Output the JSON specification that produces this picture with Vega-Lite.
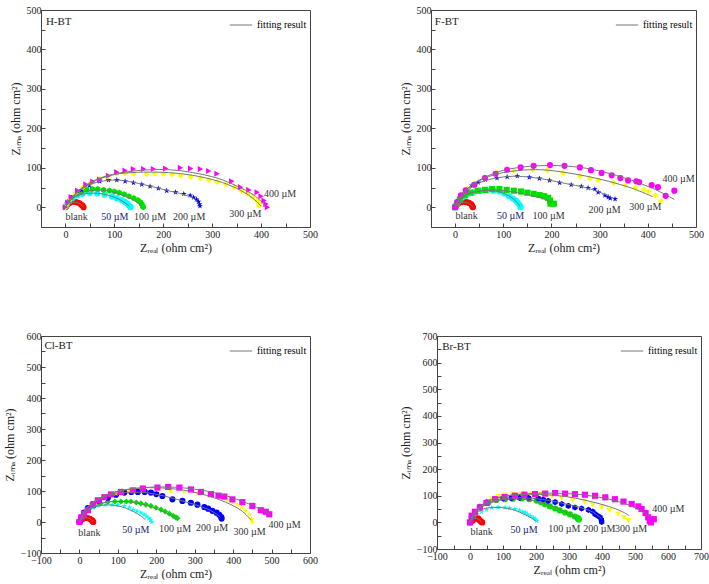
{
"$schema": "https://vega.github.io/schema/vega-lite/v6.json",
"padding": {"left": 2, "top": 4, "right": 0, "bottom": 0},
"config": {
  "font": "Liberation Serif",
  "view": {"stroke": "#444", "strokeWidth": 1},
  "axis": {"grid": false, "domain": false, "tickSize": -4, "tickColor": "#444", "tickCount": 40, "labelFontSize": 10, "labelColor": "#222", "titleFontSize": 12, "titleFontWeight": "normal", "titleColor": "#222", "labelPadding": 4, "labelFlush": false, "labelOverlap": false},
  "axisX": {"labelPadding": 6, "titlePadding": 3},
  "legend": {"labelFont": "Liberation Serif"}
},
"datasets": {
"pts": [
{"panel":"H-BT","series":"blank","x":1,"y":1},{"panel":"H-BT","series":"blank","x":3,"y":5},{"panel":"H-BT","series":"blank","x":6,"y":9},{"panel":"H-BT","series":"blank","x":10,"y":12},{"panel":"H-BT","series":"blank","x":15,"y":14},{"panel":"H-BT","series":"blank","x":20,"y":14},{"panel":"H-BT","series":"blank","x":25,"y":12},{"panel":"H-BT","series":"blank","x":29,"y":10},{"panel":"H-BT","series":"blank","x":32,"y":7},{"panel":"H-BT","series":"blank","x":35,"y":4},{"panel":"H-BT","series":"blank","x":37,"y":0},
{"panel":"H-BT","series":"50","x":0,"y":0},{"panel":"H-BT","series":"50","x":3,"y":8},{"panel":"H-BT","series":"50","x":8,"y":16},{"panel":"H-BT","series":"50","x":15,"y":24},{"panel":"H-BT","series":"50","x":25,"y":30},{"panel":"H-BT","series":"50","x":35,"y":34},{"panel":"H-BT","series":"50","x":50,"y":36},{"panel":"H-BT","series":"50","x":65,"y":35},{"panel":"H-BT","series":"50","x":80,"y":32},{"panel":"H-BT","series":"50","x":95,"y":27},{"panel":"H-BT","series":"50","x":105,"y":23},{"panel":"H-BT","series":"50","x":115,"y":18},{"panel":"H-BT","series":"50","x":122,"y":13},{"panel":"H-BT","series":"50","x":127,"y":9},{"panel":"H-BT","series":"50","x":130,"y":5},{"panel":"H-BT","series":"50","x":132,"y":2},{"panel":"H-BT","series":"50","x":133,"y":0},
{"panel":"H-BT","series":"100","x":0,"y":0},{"panel":"H-BT","series":"100","x":5,"y":12},{"panel":"H-BT","series":"100","x":12,"y":24},{"panel":"H-BT","series":"100","x":22,"y":34},{"panel":"H-BT","series":"100","x":33,"y":40},{"panel":"H-BT","series":"100","x":43,"y":44},{"panel":"H-BT","series":"100","x":55,"y":46},{"panel":"H-BT","series":"100","x":66,"y":46},{"panel":"H-BT","series":"100","x":78,"y":44},{"panel":"H-BT","series":"100","x":90,"y":42},{"panel":"H-BT","series":"100","x":100,"y":40},{"panel":"H-BT","series":"100","x":110,"y":37},{"panel":"H-BT","series":"100","x":120,"y":33},{"panel":"H-BT","series":"100","x":130,"y":28},{"panel":"H-BT","series":"100","x":140,"y":23},{"panel":"H-BT","series":"100","x":148,"y":18},{"panel":"H-BT","series":"100","x":153,"y":13},{"panel":"H-BT","series":"100","x":156,"y":8},{"panel":"H-BT","series":"100","x":158,"y":3},{"panel":"H-BT","series":"100","x":159,"y":0},
{"panel":"H-BT","series":"200","x":0,"y":0},{"panel":"H-BT","series":"200","x":5,"y":12},{"panel":"H-BT","series":"200","x":12,"y":24},{"panel":"H-BT","series":"200","x":22,"y":36},{"panel":"H-BT","series":"200","x":33,"y":44},{"panel":"H-BT","series":"200","x":49,"y":55},{"panel":"H-BT","series":"200","x":70,"y":66},{"panel":"H-BT","series":"200","x":88,"y":69},{"panel":"H-BT","series":"200","x":105,"y":69},{"panel":"H-BT","series":"200","x":122,"y":66},{"panel":"H-BT","series":"200","x":139,"y":62},{"panel":"H-BT","series":"200","x":156,"y":58},{"panel":"H-BT","series":"200","x":173,"y":53},{"panel":"H-BT","series":"200","x":190,"y":48},{"panel":"H-BT","series":"200","x":207,"y":42},{"panel":"H-BT","series":"200","x":225,"y":38},{"panel":"H-BT","series":"200","x":242,"y":34},{"panel":"H-BT","series":"200","x":255,"y":30},{"panel":"H-BT","series":"200","x":262,"y":25},{"panel":"H-BT","series":"200","x":268,"y":20},{"panel":"H-BT","series":"200","x":272,"y":14},{"panel":"H-BT","series":"200","x":274,"y":8},{"panel":"H-BT","series":"200","x":275,"y":3},
{"panel":"H-BT","series":"300","x":0,"y":0},{"panel":"H-BT","series":"300","x":4,"y":10},{"panel":"H-BT","series":"300","x":10,"y":22},{"panel":"H-BT","series":"300","x":20,"y":35},{"panel":"H-BT","series":"300","x":36,"y":51},{"panel":"H-BT","series":"300","x":52,"y":62},{"panel":"H-BT","series":"300","x":70,"y":72},{"panel":"H-BT","series":"300","x":87,"y":78},{"panel":"H-BT","series":"300","x":105,"y":85},{"panel":"H-BT","series":"300","x":122,"y":86},{"panel":"H-BT","series":"300","x":139,"y":85},{"panel":"H-BT","series":"300","x":166,"y":84},{"panel":"H-BT","series":"300","x":183,"y":85},{"panel":"H-BT","series":"300","x":200,"y":85},{"panel":"H-BT","series":"300","x":218,"y":83},{"panel":"H-BT","series":"300","x":235,"y":80},{"panel":"H-BT","series":"300","x":256,"y":77},{"panel":"H-BT","series":"300","x":276,"y":74},{"panel":"H-BT","series":"300","x":293,"y":69},{"panel":"H-BT","series":"300","x":310,"y":64},{"panel":"H-BT","series":"300","x":328,"y":58},{"panel":"H-BT","series":"300","x":345,"y":51},{"panel":"H-BT","series":"300","x":360,"y":42},{"panel":"H-BT","series":"300","x":372,"y":34},{"panel":"H-BT","series":"300","x":383,"y":25},{"panel":"H-BT","series":"300","x":392,"y":17},{"panel":"H-BT","series":"300","x":395,"y":10},{"panel":"H-BT","series":"300","x":396,"y":4},
{"panel":"H-BT","series":"400","x":0,"y":0},{"panel":"H-BT","series":"400","x":5,"y":12},{"panel":"H-BT","series":"400","x":12,"y":26},{"panel":"H-BT","series":"400","x":25,"y":42},{"panel":"H-BT","series":"400","x":42,"y":58},{"panel":"H-BT","series":"400","x":56,"y":65},{"panel":"H-BT","series":"400","x":70,"y":70},{"panel":"H-BT","series":"400","x":88,"y":80},{"panel":"H-BT","series":"400","x":105,"y":89},{"panel":"H-BT","series":"400","x":122,"y":93},{"panel":"H-BT","series":"400","x":139,"y":97},{"panel":"H-BT","series":"400","x":160,"y":97},{"panel":"H-BT","series":"400","x":180,"y":97},{"panel":"H-BT","series":"400","x":205,"y":98},{"panel":"H-BT","series":"400","x":235,"y":100},{"panel":"H-BT","series":"400","x":256,"y":98},{"panel":"H-BT","series":"400","x":276,"y":97},{"panel":"H-BT","series":"400","x":293,"y":92},{"panel":"H-BT","series":"400","x":310,"y":85},{"panel":"H-BT","series":"400","x":340,"y":66},{"panel":"H-BT","series":"400","x":358,"y":51},{"panel":"H-BT","series":"400","x":375,"y":44},{"panel":"H-BT","series":"400","x":392,"y":38},{"panel":"H-BT","series":"400","x":400,"y":28},{"panel":"H-BT","series":"400","x":406,"y":17},{"panel":"H-BT","series":"400","x":410,"y":8},{"panel":"H-BT","series":"400","x":413,"y":0},

{"panel":"F-BT","series":"blank","x":1,"y":1},{"panel":"F-BT","series":"blank","x":3,"y":6},{"panel":"F-BT","series":"blank","x":7,"y":10},{"panel":"F-BT","series":"blank","x":12,"y":13},{"panel":"F-BT","series":"blank","x":18,"y":14},{"panel":"F-BT","series":"blank","x":24,"y":13},{"panel":"F-BT","series":"blank","x":29,"y":11},{"panel":"F-BT","series":"blank","x":33,"y":8},{"panel":"F-BT","series":"blank","x":35,"y":5},{"panel":"F-BT","series":"blank","x":36,"y":2},{"panel":"F-BT","series":"blank","x":37,"y":0},
{"panel":"F-BT","series":"50","x":0,"y":0},{"panel":"F-BT","series":"50","x":3,"y":8},{"panel":"F-BT","series":"50","x":8,"y":16},{"panel":"F-BT","series":"50","x":15,"y":25},{"panel":"F-BT","series":"50","x":25,"y":33},{"panel":"F-BT","series":"50","x":38,"y":38},{"panel":"F-BT","series":"50","x":52,"y":41},{"panel":"F-BT","series":"50","x":66,"y":43},{"panel":"F-BT","series":"50","x":80,"y":42},{"panel":"F-BT","series":"50","x":92,"y":40},{"panel":"F-BT","series":"50","x":102,"y":35},{"panel":"F-BT","series":"50","x":112,"y":28},{"panel":"F-BT","series":"50","x":120,"y":22},{"panel":"F-BT","series":"50","x":126,"y":17},{"panel":"F-BT","series":"50","x":130,"y":12},{"panel":"F-BT","series":"50","x":133,"y":7},{"panel":"F-BT","series":"50","x":135,"y":3},{"panel":"F-BT","series":"50","x":136,"y":0},
{"panel":"F-BT","series":"100","x":0,"y":0},{"panel":"F-BT","series":"100","x":4,"y":10},{"panel":"F-BT","series":"100","x":10,"y":20},{"panel":"F-BT","series":"100","x":20,"y":30},{"panel":"F-BT","series":"100","x":32,"y":37},{"panel":"F-BT","series":"100","x":47,"y":42},{"panel":"F-BT","series":"100","x":62,"y":44},{"panel":"F-BT","series":"100","x":77,"y":46},{"panel":"F-BT","series":"100","x":92,"y":46},{"panel":"F-BT","series":"100","x":107,"y":44},{"panel":"F-BT","series":"100","x":122,"y":42},{"panel":"F-BT","series":"100","x":137,"y":40},{"panel":"F-BT","series":"100","x":150,"y":37},{"panel":"F-BT","series":"100","x":163,"y":34},{"panel":"F-BT","series":"100","x":175,"y":31},{"panel":"F-BT","series":"100","x":185,"y":28},{"panel":"F-BT","series":"100","x":193,"y":24},{"panel":"F-BT","series":"100","x":197,"y":17},{"panel":"F-BT","series":"100","x":198,"y":9},{"panel":"F-BT","series":"100","x":205,"y":9},
{"panel":"F-BT","series":"200","x":0,"y":0},{"panel":"F-BT","series":"200","x":5,"y":14},{"panel":"F-BT","series":"200","x":12,"y":28},{"panel":"F-BT","series":"200","x":22,"y":42},{"panel":"F-BT","series":"200","x":35,"y":55},{"panel":"F-BT","series":"200","x":48,"y":63},{"panel":"F-BT","series":"200","x":63,"y":70},{"panel":"F-BT","series":"200","x":87,"y":74},{"panel":"F-BT","series":"200","x":108,"y":77},{"panel":"F-BT","series":"200","x":129,"y":79},{"panel":"F-BT","series":"200","x":154,"y":76},{"panel":"F-BT","series":"200","x":175,"y":73},{"panel":"F-BT","series":"200","x":196,"y":68},{"panel":"F-BT","series":"200","x":217,"y":62},{"panel":"F-BT","series":"200","x":241,"y":57},{"panel":"F-BT","series":"200","x":262,"y":53},{"panel":"F-BT","series":"200","x":276,"y":49},{"panel":"F-BT","series":"200","x":290,"y":46},{"panel":"F-BT","series":"200","x":297,"y":38},{"panel":"F-BT","series":"200","x":311,"y":30},{"panel":"F-BT","series":"200","x":318,"y":26},{"panel":"F-BT","series":"200","x":322,"y":23},{"panel":"F-BT","series":"200","x":332,"y":21},
{"panel":"F-BT","series":"300","x":0,"y":0},{"panel":"F-BT","series":"300","x":5,"y":14},{"panel":"F-BT","series":"300","x":12,"y":30},{"panel":"F-BT","series":"300","x":25,"y":47},{"panel":"F-BT","series":"300","x":40,"y":60},{"panel":"F-BT","series":"300","x":60,"y":74},{"panel":"F-BT","series":"300","x":87,"y":87},{"panel":"F-BT","series":"300","x":122,"y":93},{"panel":"F-BT","series":"300","x":161,"y":95},{"panel":"F-BT","series":"300","x":192,"y":94},{"panel":"F-BT","series":"300","x":224,"y":87},{"panel":"F-BT","series":"300","x":259,"y":79},{"panel":"F-BT","series":"300","x":280,"y":73},{"panel":"F-BT","series":"300","x":297,"y":68},{"panel":"F-BT","series":"300","x":329,"y":62},{"panel":"F-BT","series":"300","x":353,"y":55},{"panel":"F-BT","series":"300","x":374,"y":49},{"panel":"F-BT","series":"300","x":392,"y":44},{"panel":"F-BT","series":"300","x":402,"y":40},{"panel":"F-BT","series":"300","x":416,"y":30},{"panel":"F-BT","series":"300","x":427,"y":16},
{"panel":"F-BT","series":"400","x":0,"y":0},{"panel":"F-BT","series":"400","x":5,"y":14},{"panel":"F-BT","series":"400","x":12,"y":30},{"panel":"F-BT","series":"400","x":22,"y":43},{"panel":"F-BT","series":"400","x":40,"y":57},{"panel":"F-BT","series":"400","x":62,"y":74},{"panel":"F-BT","series":"400","x":84,"y":85},{"panel":"F-BT","series":"400","x":108,"y":95},{"panel":"F-BT","series":"400","x":136,"y":101},{"panel":"F-BT","series":"400","x":163,"y":105},{"panel":"F-BT","series":"400","x":197,"y":107},{"panel":"F-BT","series":"400","x":227,"y":105},{"panel":"F-BT","series":"400","x":259,"y":101},{"panel":"F-BT","series":"400","x":282,"y":94},{"panel":"F-BT","series":"400","x":304,"y":87},{"panel":"F-BT","series":"400","x":325,"y":81},{"panel":"F-BT","series":"400","x":343,"y":74},{"panel":"F-BT","series":"400","x":359,"y":68},{"panel":"F-BT","series":"400","x":376,"y":66},{"panel":"F-BT","series":"400","x":382,"y":64},{"panel":"F-BT","series":"400","x":408,"y":56},{"panel":"F-BT","series":"400","x":421,"y":51},{"panel":"F-BT","series":"400","x":437,"y":29},{"panel":"F-BT","series":"400","x":455,"y":42},

{"panel":"Cl-BT","series":"blank","x":1,"y":1},{"panel":"Cl-BT","series":"blank","x":4,"y":6},{"panel":"Cl-BT","series":"blank","x":8,"y":10},{"panel":"Cl-BT","series":"blank","x":14,"y":13},{"panel":"Cl-BT","series":"blank","x":20,"y":13},{"panel":"Cl-BT","series":"blank","x":26,"y":11},{"panel":"Cl-BT","series":"blank","x":30,"y":8},{"panel":"Cl-BT","series":"blank","x":33,"y":5},{"panel":"Cl-BT","series":"blank","x":35,"y":2},{"panel":"Cl-BT","series":"blank","x":36,"y":0},
{"panel":"Cl-BT","series":"50","x":0,"y":0},{"panel":"Cl-BT","series":"50","x":5,"y":12},{"panel":"Cl-BT","series":"50","x":12,"y":24},{"panel":"Cl-BT","series":"50","x":22,"y":36},{"panel":"Cl-BT","series":"50","x":35,"y":46},{"panel":"Cl-BT","series":"50","x":50,"y":52},{"panel":"Cl-BT","series":"50","x":68,"y":56},{"panel":"Cl-BT","series":"50","x":85,"y":56},{"panel":"Cl-BT","series":"50","x":100,"y":55},{"panel":"Cl-BT","series":"50","x":117,"y":52},{"panel":"Cl-BT","series":"50","x":130,"y":47},{"panel":"Cl-BT","series":"50","x":140,"y":40},{"panel":"Cl-BT","series":"50","x":150,"y":35},{"panel":"Cl-BT","series":"50","x":160,"y":30},{"panel":"Cl-BT","series":"50","x":168,"y":24},{"panel":"Cl-BT","series":"50","x":175,"y":18},{"panel":"Cl-BT","series":"50","x":181,"y":12},{"panel":"Cl-BT","series":"50","x":185,"y":7},{"panel":"Cl-BT","series":"50","x":188,"y":0},
{"panel":"Cl-BT","series":"100","x":0,"y":0},{"panel":"Cl-BT","series":"100","x":5,"y":12},{"panel":"Cl-BT","series":"100","x":12,"y":25},{"panel":"Cl-BT","series":"100","x":22,"y":38},{"panel":"Cl-BT","series":"100","x":39,"y":52},{"panel":"Cl-BT","series":"100","x":55,"y":60},{"panel":"Cl-BT","series":"100","x":74,"y":65},{"panel":"Cl-BT","series":"100","x":92,"y":66},{"panel":"Cl-BT","series":"100","x":108,"y":66},{"panel":"Cl-BT","series":"100","x":122,"y":66},{"panel":"Cl-BT","series":"100","x":134,"y":66},{"panel":"Cl-BT","series":"100","x":148,"y":63},{"panel":"Cl-BT","series":"100","x":160,"y":60},{"panel":"Cl-BT","series":"100","x":173,"y":56},{"panel":"Cl-BT","series":"100","x":186,"y":52},{"panel":"Cl-BT","series":"100","x":199,"y":46},{"panel":"Cl-BT","series":"100","x":212,"y":40},{"panel":"Cl-BT","series":"100","x":223,"y":34},{"panel":"Cl-BT","series":"100","x":234,"y":27},{"panel":"Cl-BT","series":"100","x":244,"y":20},{"panel":"Cl-BT","series":"100","x":251,"y":15},{"panel":"Cl-BT","series":"100","x":255,"y":12},
{"panel":"Cl-BT","series":"200","x":0,"y":0},{"panel":"Cl-BT","series":"200","x":5,"y":15},{"panel":"Cl-BT","series":"200","x":12,"y":30},{"panel":"Cl-BT","series":"200","x":22,"y":45},{"panel":"Cl-BT","series":"200","x":35,"y":58},{"panel":"Cl-BT","series":"200","x":50,"y":68},{"panel":"Cl-BT","series":"200","x":74,"y":78},{"panel":"Cl-BT","series":"200","x":95,"y":88},{"panel":"Cl-BT","series":"200","x":117,"y":95},{"panel":"Cl-BT","series":"200","x":135,"y":97},{"panel":"Cl-BT","series":"200","x":152,"y":97},{"panel":"Cl-BT","series":"200","x":170,"y":97},{"panel":"Cl-BT","series":"200","x":186,"y":95},{"panel":"Cl-BT","series":"200","x":200,"y":90},{"panel":"Cl-BT","series":"200","x":216,"y":84},{"panel":"Cl-BT","series":"200","x":242,"y":73},{"panel":"Cl-BT","series":"200","x":268,"y":68},{"panel":"Cl-BT","series":"200","x":290,"y":62},{"panel":"Cl-BT","series":"200","x":307,"y":56},{"panel":"Cl-BT","series":"200","x":325,"y":48},{"panel":"Cl-BT","series":"200","x":335,"y":43},{"panel":"Cl-BT","series":"200","x":346,"y":36},{"panel":"Cl-BT","series":"200","x":357,"y":30},{"panel":"Cl-BT","series":"200","x":364,"y":23},{"panel":"Cl-BT","series":"200","x":369,"y":16},{"panel":"Cl-BT","series":"200","x":370,"y":11},
{"panel":"Cl-BT","series":"300","x":0,"y":0},{"panel":"Cl-BT","series":"300","x":8,"y":22},{"panel":"Cl-BT","series":"300","x":20,"y":42},{"panel":"Cl-BT","series":"300","x":40,"y":62},{"panel":"Cl-BT","series":"300","x":65,"y":80},{"panel":"Cl-BT","series":"300","x":95,"y":92},{"panel":"Cl-BT","series":"300","x":130,"y":101},{"panel":"Cl-BT","series":"300","x":165,"y":105},{"panel":"Cl-BT","series":"300","x":200,"y":104},{"panel":"Cl-BT","series":"300","x":238,"y":100},{"panel":"Cl-BT","series":"300","x":273,"y":97},{"panel":"Cl-BT","series":"300","x":307,"y":92},{"panel":"Cl-BT","series":"300","x":342,"y":84},{"panel":"Cl-BT","series":"300","x":365,"y":77},{"panel":"Cl-BT","series":"300","x":385,"y":70},{"panel":"Cl-BT","series":"300","x":400,"y":63},{"panel":"Cl-BT","series":"300","x":411,"y":57},{"panel":"Cl-BT","series":"300","x":422,"y":47},{"panel":"Cl-BT","series":"300","x":433,"y":36},{"panel":"Cl-BT","series":"300","x":442,"y":25},{"panel":"Cl-BT","series":"300","x":448,"y":10},{"panel":"Cl-BT","series":"300","x":450,"y":0},
{"panel":"Cl-BT","series":"400","x":0,"y":0},{"panel":"Cl-BT","series":"400","x":5,"y":15},{"panel":"Cl-BT","series":"400","x":12,"y":27},{"panel":"Cl-BT","series":"400","x":22,"y":38},{"panel":"Cl-BT","series":"400","x":35,"y":55},{"panel":"Cl-BT","series":"400","x":48,"y":70},{"panel":"Cl-BT","series":"400","x":65,"y":80},{"panel":"Cl-BT","series":"400","x":82,"y":89},{"panel":"Cl-BT","series":"400","x":108,"y":97},{"panel":"Cl-BT","series":"400","x":139,"y":102},{"panel":"Cl-BT","series":"400","x":165,"y":108},{"panel":"Cl-BT","series":"400","x":203,"y":111},{"panel":"Cl-BT","series":"400","x":231,"y":113},{"panel":"Cl-BT","series":"400","x":260,"y":111},{"panel":"Cl-BT","series":"400","x":290,"y":105},{"panel":"Cl-BT","series":"400","x":316,"y":97},{"panel":"Cl-BT","series":"400","x":342,"y":90},{"panel":"Cl-BT","series":"400","x":362,"y":85},{"panel":"Cl-BT","series":"400","x":377,"y":82},{"panel":"Cl-BT","series":"400","x":398,"y":73},{"panel":"Cl-BT","series":"400","x":424,"y":64},{"panel":"Cl-BT","series":"400","x":450,"y":52},{"panel":"Cl-BT","series":"400","x":472,"y":38},{"panel":"Cl-BT","series":"400","x":485,"y":33},{"panel":"Cl-BT","series":"400","x":494,"y":25},

{"panel":"Br-BT","series":"blank","x":8,"y":6},{"panel":"Br-BT","series":"blank","x":14,"y":13},{"panel":"Br-BT","series":"blank","x":20,"y":17},{"panel":"Br-BT","series":"blank","x":25,"y":15},{"panel":"Br-BT","series":"blank","x":28,"y":10},{"panel":"Br-BT","series":"blank","x":31,"y":6},{"panel":"Br-BT","series":"blank","x":34,"y":2},{"panel":"Br-BT","series":"blank","x":37,"y":0},
{"panel":"Br-BT","series":"50","x":0,"y":0},{"panel":"Br-BT","series":"50","x":5,"y":12},{"panel":"Br-BT","series":"50","x":12,"y":23},{"panel":"Br-BT","series":"50","x":22,"y":32},{"panel":"Br-BT","series":"50","x":35,"y":40},{"panel":"Br-BT","series":"50","x":50,"y":48},{"panel":"Br-BT","series":"50","x":66,"y":55},{"panel":"Br-BT","series":"50","x":85,"y":57},{"panel":"Br-BT","series":"50","x":106,"y":56},{"panel":"Br-BT","series":"50","x":120,"y":54},{"panel":"Br-BT","series":"50","x":136,"y":50},{"panel":"Br-BT","series":"50","x":150,"y":45},{"panel":"Br-BT","series":"50","x":160,"y":40},{"panel":"Br-BT","series":"50","x":167,"y":37},{"panel":"Br-BT","series":"50","x":175,"y":30},{"panel":"Br-BT","series":"50","x":183,"y":24},{"panel":"Br-BT","series":"50","x":192,"y":18},{"panel":"Br-BT","series":"50","x":198,"y":12},{"panel":"Br-BT","series":"50","x":202,"y":6},
{"panel":"Br-BT","series":"100","x":0,"y":0},{"panel":"Br-BT","series":"100","x":5,"y":18},{"panel":"Br-BT","series":"100","x":15,"y":38},{"panel":"Br-BT","series":"100","x":30,"y":58},{"panel":"Br-BT","series":"100","x":56,"y":75},{"panel":"Br-BT","series":"100","x":80,"y":84},{"panel":"Br-BT","series":"100","x":106,"y":87},{"panel":"Br-BT","series":"100","x":130,"y":89},{"panel":"Br-BT","series":"100","x":157,"y":90},{"panel":"Br-BT","series":"100","x":180,"y":87},{"panel":"Br-BT","series":"100","x":202,"y":82},{"panel":"Br-BT","series":"100","x":215,"y":76},{"panel":"Br-BT","series":"100","x":227,"y":68},{"panel":"Br-BT","series":"100","x":242,"y":60},{"panel":"Br-BT","series":"100","x":258,"y":52},{"panel":"Br-BT","series":"100","x":272,"y":45},{"panel":"Br-BT","series":"100","x":288,"y":37},{"panel":"Br-BT","series":"100","x":303,"y":30},{"panel":"Br-BT","series":"100","x":318,"y":22},{"panel":"Br-BT","series":"100","x":325,"y":17},{"panel":"Br-BT","series":"100","x":328,"y":14},{"panel":"Br-BT","series":"100","x":330,"y":11},
{"panel":"Br-BT","series":"200","x":0,"y":0},{"panel":"Br-BT","series":"200","x":5,"y":18},{"panel":"Br-BT","series":"200","x":15,"y":38},{"panel":"Br-BT","series":"200","x":30,"y":58},{"panel":"Br-BT","series":"200","x":50,"y":75},{"panel":"Br-BT","series":"200","x":76,"y":87},{"panel":"Br-BT","series":"200","x":100,"y":90},{"panel":"Br-BT","series":"200","x":125,"y":91},{"panel":"Br-BT","series":"200","x":150,"y":92},{"panel":"Br-BT","series":"200","x":177,"y":92},{"panel":"Br-BT","series":"200","x":207,"y":90},{"panel":"Br-BT","series":"200","x":222,"y":86},{"panel":"Br-BT","series":"200","x":237,"y":81},{"panel":"Br-BT","series":"200","x":258,"y":76},{"panel":"Br-BT","series":"200","x":278,"y":69},{"panel":"Br-BT","series":"200","x":298,"y":62},{"panel":"Br-BT","series":"200","x":318,"y":56},{"panel":"Br-BT","series":"200","x":338,"y":52},{"panel":"Br-BT","series":"200","x":359,"y":47},{"panel":"Br-BT","series":"200","x":372,"y":41},{"panel":"Br-BT","series":"200","x":379,"y":31},{"panel":"Br-BT","series":"200","x":387,"y":25},{"panel":"Br-BT","series":"200","x":394,"y":19},{"panel":"Br-BT","series":"200","x":398,"y":10},{"panel":"Br-BT","series":"200","x":399,"y":2},
{"panel":"Br-BT","series":"300","x":0,"y":0},{"panel":"Br-BT","series":"300","x":5,"y":20},{"panel":"Br-BT","series":"300","x":15,"y":38},{"panel":"Br-BT","series":"300","x":35,"y":56},{"panel":"Br-BT","series":"300","x":66,"y":87},{"panel":"Br-BT","series":"300","x":85,"y":97},{"panel":"Br-BT","series":"300","x":106,"y":102},{"panel":"Br-BT","series":"300","x":130,"y":105},{"panel":"Br-BT","series":"300","x":157,"y":106},{"panel":"Br-BT","series":"300","x":187,"y":106},{"panel":"Br-BT","series":"300","x":217,"y":106},{"panel":"Br-BT","series":"300","x":248,"y":98},{"panel":"Br-BT","series":"300","x":278,"y":90},{"panel":"Br-BT","series":"300","x":312,"y":83},{"panel":"Br-BT","series":"300","x":348,"y":75},{"panel":"Br-BT","series":"300","x":372,"y":66},{"panel":"Br-BT","series":"300","x":399,"y":56},{"panel":"Br-BT","series":"300","x":423,"y":45},{"panel":"Br-BT","series":"300","x":449,"y":31},{"panel":"Br-BT","series":"300","x":466,"y":18},{"panel":"Br-BT","series":"300","x":480,"y":6},
{"panel":"Br-BT","series":"400","x":0,"y":0},{"panel":"Br-BT","series":"400","x":5,"y":25},{"panel":"Br-BT","series":"400","x":15,"y":40},{"panel":"Br-BT","series":"400","x":30,"y":56},{"panel":"Br-BT","series":"400","x":50,"y":73},{"panel":"Br-BT","series":"400","x":76,"y":87},{"panel":"Br-BT","series":"400","x":105,"y":95},{"panel":"Br-BT","series":"400","x":136,"y":100},{"panel":"Br-BT","series":"400","x":165,"y":104},{"panel":"Br-BT","series":"400","x":197,"y":106},{"panel":"Br-BT","series":"400","x":228,"y":108},{"panel":"Br-BT","series":"400","x":258,"y":110},{"panel":"Br-BT","series":"400","x":288,"y":108},{"panel":"Br-BT","series":"400","x":318,"y":106},{"panel":"Br-BT","series":"400","x":348,"y":104},{"panel":"Br-BT","series":"400","x":379,"y":100},{"panel":"Br-BT","series":"400","x":410,"y":94},{"panel":"Br-BT","series":"400","x":439,"y":87},{"panel":"Br-BT","series":"400","x":465,"y":78},{"panel":"Br-BT","series":"400","x":490,"y":69},{"panel":"Br-BT","series":"400","x":510,"y":60},{"panel":"Br-BT","series":"400","x":520,"y":50},{"panel":"Br-BT","series":"400","x":532,"y":35},{"panel":"Br-BT","series":"400","x":540,"y":19},{"panel":"Br-BT","series":"400","x":545,"y":5},{"panel":"Br-BT","series":"400","x":548,"y":0},{"panel":"Br-BT","series":"400","x":557,"y":12}
],
"fit": [
{"panel":"H-BT","series":"blank","x":0,"y":0},{"panel":"H-BT","series":"blank","x":5,"y":8},{"panel":"H-BT","series":"blank","x":12,"y":12},{"panel":"H-BT","series":"blank","x":20,"y":13},{"panel":"H-BT","series":"blank","x":28,"y":10},{"panel":"H-BT","series":"blank","x":34,"y":5},{"panel":"H-BT","series":"blank","x":37,"y":0},
{"panel":"H-BT","series":"50","x":0,"y":0},{"panel":"H-BT","series":"50","x":8,"y":15},{"panel":"H-BT","series":"50","x":20,"y":27},{"panel":"H-BT","series":"50","x":35,"y":33},{"panel":"H-BT","series":"50","x":55,"y":36},{"panel":"H-BT","series":"50","x":75,"y":34},{"panel":"H-BT","series":"50","x":95,"y":28},{"panel":"H-BT","series":"50","x":110,"y":20},{"panel":"H-BT","series":"50","x":122,"y":11},{"panel":"H-BT","series":"50","x":130,"y":3},
{"panel":"H-BT","series":"100","x":0,"y":0},{"panel":"H-BT","series":"100","x":10,"y":18},{"panel":"H-BT","series":"100","x":25,"y":32},{"panel":"H-BT","series":"100","x":45,"y":41},{"panel":"H-BT","series":"100","x":65,"y":44},{"panel":"H-BT","series":"100","x":85,"y":42},{"panel":"H-BT","series":"100","x":105,"y":36},{"panel":"H-BT","series":"100","x":125,"y":27},{"panel":"H-BT","series":"100","x":142,"y":16},{"panel":"H-BT","series":"100","x":155,"y":5},
{"panel":"H-BT","series":"200","x":0,"y":0},{"panel":"H-BT","series":"200","x":10,"y":20},{"panel":"H-BT","series":"200","x":25,"y":38},{"panel":"H-BT","series":"200","x":45,"y":54},{"panel":"H-BT","series":"200","x":70,"y":65},{"panel":"H-BT","series":"200","x":105,"y":69},{"panel":"H-BT","series":"200","x":140,"y":63},{"panel":"H-BT","series":"200","x":175,"y":53},{"panel":"H-BT","series":"200","x":210,"y":42},{"panel":"H-BT","series":"200","x":240,"y":33},{"panel":"H-BT","series":"200","x":262,"y":22},{"panel":"H-BT","series":"200","x":272,"y":8},
{"panel":"H-BT","series":"300","x":0,"y":0},{"panel":"H-BT","series":"300","x":15,"y":25},{"panel":"H-BT","series":"300","x":40,"y":52},{"panel":"H-BT","series":"300","x":70,"y":72},{"panel":"H-BT","series":"300","x":110,"y":85},{"panel":"H-BT","series":"300","x":160,"y":89},{"panel":"H-BT","series":"300","x":210,"y":88},{"panel":"H-BT","series":"300","x":260,"y":81},{"panel":"H-BT","series":"300","x":310,"y":67},{"panel":"H-BT","series":"300","x":350,"y":48},{"panel":"H-BT","series":"300","x":380,"y":26},{"panel":"H-BT","series":"300","x":400,"y":3},
{"panel":"H-BT","series":"400","x":0,"y":0},{"panel":"H-BT","series":"400","x":15,"y":27},{"panel":"H-BT","series":"400","x":40,"y":55},{"panel":"H-BT","series":"400","x":75,"y":76},{"panel":"H-BT","series":"400","x":120,"y":89},{"panel":"H-BT","series":"400","x":170,"y":95},{"panel":"H-BT","series":"400","x":215,"y":95},{"panel":"H-BT","series":"400","x":260,"y":88},{"panel":"H-BT","series":"400","x":310,"y":74},{"panel":"H-BT","series":"400","x":350,"y":54},{"panel":"H-BT","series":"400","x":385,"y":31},{"panel":"H-BT","series":"400","x":408,"y":5},

{"panel":"F-BT","series":"blank","x":0,"y":0},{"panel":"F-BT","series":"blank","x":5,"y":8},{"panel":"F-BT","series":"blank","x":12,"y":12},{"panel":"F-BT","series":"blank","x":20,"y":13},{"panel":"F-BT","series":"blank","x":28,"y":10},{"panel":"F-BT","series":"blank","x":34,"y":5},{"panel":"F-BT","series":"blank","x":37,"y":0},
{"panel":"F-BT","series":"50","x":0,"y":0},{"panel":"F-BT","series":"50","x":10,"y":20},{"panel":"F-BT","series":"50","x":25,"y":33},{"panel":"F-BT","series":"50","x":45,"y":40},{"panel":"F-BT","series":"50","x":65,"y":43},{"panel":"F-BT","series":"50","x":85,"y":41},{"panel":"F-BT","series":"50","x":105,"y":33},{"panel":"F-BT","series":"50","x":120,"y":22},{"panel":"F-BT","series":"50","x":130,"y":10},{"panel":"F-BT","series":"50","x":135,"y":2},
{"panel":"F-BT","series":"100","x":0,"y":0},{"panel":"F-BT","series":"100","x":12,"y":22},{"panel":"F-BT","series":"100","x":30,"y":35},{"panel":"F-BT","series":"100","x":55,"y":42},{"panel":"F-BT","series":"100","x":80,"y":44},{"panel":"F-BT","series":"100","x":105,"y":42},{"panel":"F-BT","series":"100","x":130,"y":37},{"panel":"F-BT","series":"100","x":155,"y":31},{"panel":"F-BT","series":"100","x":180,"y":23},{"panel":"F-BT","series":"100","x":200,"y":12},
{"panel":"F-BT","series":"200","x":0,"y":0},{"panel":"F-BT","series":"200","x":15,"y":30},{"panel":"F-BT","series":"200","x":40,"y":55},{"panel":"F-BT","series":"200","x":70,"y":70},{"panel":"F-BT","series":"200","x":110,"y":78},{"panel":"F-BT","series":"200","x":150,"y":77},{"panel":"F-BT","series":"200","x":190,"y":70},{"panel":"F-BT","series":"200","x":230,"y":60},{"panel":"F-BT","series":"200","x":270,"y":50},{"panel":"F-BT","series":"200","x":305,"y":36},{"panel":"F-BT","series":"200","x":330,"y":22},
{"panel":"F-BT","series":"300","x":0,"y":0},{"panel":"F-BT","series":"300","x":15,"y":32},{"panel":"F-BT","series":"300","x":40,"y":60},{"panel":"F-BT","series":"300","x":80,"y":82},{"panel":"F-BT","series":"300","x":130,"y":93},{"panel":"F-BT","series":"300","x":180,"y":95},{"panel":"F-BT","series":"300","x":230,"y":88},{"panel":"F-BT","series":"300","x":280,"y":77},{"panel":"F-BT","series":"300","x":330,"y":62},{"panel":"F-BT","series":"300","x":370,"y":47},{"panel":"F-BT","series":"300","x":410,"y":27},
{"panel":"F-BT","series":"400","x":0,"y":0},{"panel":"F-BT","series":"400","x":15,"y":35},{"panel":"F-BT","series":"400","x":45,"y":65},{"panel":"F-BT","series":"400","x":90,"y":90},{"panel":"F-BT","series":"400","x":140,"y":102},{"panel":"F-BT","series":"400","x":200,"y":106},{"panel":"F-BT","series":"400","x":260,"y":101},{"panel":"F-BT","series":"400","x":310,"y":89},{"panel":"F-BT","series":"400","x":360,"y":71},{"panel":"F-BT","series":"400","x":410,"y":48},{"panel":"F-BT","series":"400","x":455,"y":20},

{"panel":"Cl-BT","series":"blank","x":0,"y":0},{"panel":"Cl-BT","series":"blank","x":5,"y":10},{"panel":"Cl-BT","series":"blank","x":15,"y":14},{"panel":"Cl-BT","series":"blank","x":25,"y":12},{"panel":"Cl-BT","series":"blank","x":32,"y":6},{"panel":"Cl-BT","series":"blank","x":35,"y":0},
{"panel":"Cl-BT","series":"50","x":0,"y":0},{"panel":"Cl-BT","series":"50","x":10,"y":22},{"panel":"Cl-BT","series":"50","x":25,"y":40},{"panel":"Cl-BT","series":"50","x":45,"y":51},{"panel":"Cl-BT","series":"50","x":70,"y":55},{"panel":"Cl-BT","series":"50","x":95,"y":53},{"panel":"Cl-BT","series":"50","x":120,"y":45},{"panel":"Cl-BT","series":"50","x":140,"y":34},{"panel":"Cl-BT","series":"50","x":158,"y":21},{"panel":"Cl-BT","series":"50","x":172,"y":7},
{"panel":"Cl-BT","series":"100","x":0,"y":0},{"panel":"Cl-BT","series":"100","x":12,"y":25},{"panel":"Cl-BT","series":"100","x":30,"y":45},{"panel":"Cl-BT","series":"100","x":55,"y":60},{"panel":"Cl-BT","series":"100","x":85,"y":66},{"panel":"Cl-BT","series":"100","x":120,"y":66},{"panel":"Cl-BT","series":"100","x":155,"y":60},{"panel":"Cl-BT","series":"100","x":190,"y":48},{"panel":"Cl-BT","series":"100","x":220,"y":33},{"panel":"Cl-BT","series":"100","x":245,"y":17},{"panel":"Cl-BT","series":"100","x":256,"y":10},
{"panel":"Cl-BT","series":"200","x":0,"y":0},{"panel":"Cl-BT","series":"200","x":15,"y":35},{"panel":"Cl-BT","series":"200","x":40,"y":65},{"panel":"Cl-BT","series":"200","x":75,"y":85},{"panel":"Cl-BT","series":"200","x":120,"y":95},{"panel":"Cl-BT","series":"200","x":170,"y":95},{"panel":"Cl-BT","series":"200","x":220,"y":84},{"panel":"Cl-BT","series":"200","x":265,"y":69},{"panel":"Cl-BT","series":"200","x":305,"y":54},{"panel":"Cl-BT","series":"200","x":340,"y":38},{"panel":"Cl-BT","series":"200","x":365,"y":18},
{"panel":"Cl-BT","series":"300","x":0,"y":0},{"panel":"Cl-BT","series":"300","x":15,"y":38},{"panel":"Cl-BT","series":"300","x":45,"y":72},{"panel":"Cl-BT","series":"300","x":90,"y":96},{"panel":"Cl-BT","series":"300","x":150,"y":109},{"panel":"Cl-BT","series":"300","x":210,"y":110},{"panel":"Cl-BT","series":"300","x":270,"y":103},{"panel":"Cl-BT","series":"300","x":330,"y":86},{"panel":"Cl-BT","series":"300","x":380,"y":64},{"panel":"Cl-BT","series":"300","x":420,"y":38},{"panel":"Cl-BT","series":"300","x":448,"y":5},
{"panel":"Cl-BT","series":"400","x":0,"y":0},{"panel":"Cl-BT","series":"400","x":15,"y":38},{"panel":"Cl-BT","series":"400","x":45,"y":72},{"panel":"Cl-BT","series":"400","x":95,"y":97},{"panel":"Cl-BT","series":"400","x":160,"y":110},{"panel":"Cl-BT","series":"400","x":230,"y":113},{"panel":"Cl-BT","series":"400","x":300,"y":106},{"panel":"Cl-BT","series":"400","x":360,"y":92},{"panel":"Cl-BT","series":"400","x":410,"y":73},{"panel":"Cl-BT","series":"400","x":460,"y":48},{"panel":"Cl-BT","series":"400","x":500,"y":22},

{"panel":"Br-BT","series":"blank","x":0,"y":0},{"panel":"Br-BT","series":"blank","x":5,"y":10},{"panel":"Br-BT","series":"blank","x":15,"y":15},{"panel":"Br-BT","series":"blank","x":25,"y":12},{"panel":"Br-BT","series":"blank","x":32,"y":6},{"panel":"Br-BT","series":"blank","x":35,"y":0},
{"panel":"Br-BT","series":"50","x":0,"y":0},{"panel":"Br-BT","series":"50","x":15,"y":30},{"panel":"Br-BT","series":"50","x":40,"y":50},{"panel":"Br-BT","series":"50","x":70,"y":56},{"panel":"Br-BT","series":"50","x":100,"y":55},{"panel":"Br-BT","series":"50","x":130,"y":48},{"panel":"Br-BT","series":"50","x":160,"y":33},{"panel":"Br-BT","series":"50","x":185,"y":17},{"panel":"Br-BT","series":"50","x":200,"y":5},
{"panel":"Br-BT","series":"100","x":0,"y":0},{"panel":"Br-BT","series":"100","x":15,"y":35},{"panel":"Br-BT","series":"100","x":45,"y":65},{"panel":"Br-BT","series":"100","x":90,"y":83},{"panel":"Br-BT","series":"100","x":140,"y":88},{"panel":"Br-BT","series":"100","x":190,"y":82},{"panel":"Br-BT","series":"100","x":240,"y":65},{"panel":"Br-BT","series":"100","x":285,"y":42},{"panel":"Br-BT","series":"100","x":320,"y":18},
{"panel":"Br-BT","series":"200","x":0,"y":0},{"panel":"Br-BT","series":"200","x":15,"y":37},{"panel":"Br-BT","series":"200","x":45,"y":70},{"panel":"Br-BT","series":"200","x":100,"y":89},{"panel":"Br-BT","series":"200","x":160,"y":92},{"panel":"Br-BT","series":"200","x":220,"y":86},{"panel":"Br-BT","series":"200","x":280,"y":72},{"panel":"Br-BT","series":"200","x":330,"y":57},{"panel":"Br-BT","series":"200","x":370,"y":40},{"panel":"Br-BT","series":"200","x":398,"y":15},
{"panel":"Br-BT","series":"300","x":0,"y":0},{"panel":"Br-BT","series":"300","x":15,"y":40},{"panel":"Br-BT","series":"300","x":50,"y":78},{"panel":"Br-BT","series":"300","x":100,"y":97},{"panel":"Br-BT","series":"300","x":160,"y":105},{"panel":"Br-BT","series":"300","x":230,"y":104},{"panel":"Br-BT","series":"300","x":300,"y":95},{"panel":"Br-BT","series":"300","x":360,"y":80},{"panel":"Br-BT","series":"300","x":420,"y":60},{"panel":"Br-BT","series":"300","x":460,"y":41},{"panel":"Br-BT","series":"300","x":482,"y":25},
{"panel":"Br-BT","series":"400","x":0,"y":0},{"panel":"Br-BT","series":"400","x":15,"y":40},{"panel":"Br-BT","series":"400","x":55,"y":80},{"panel":"Br-BT","series":"400","x":110,"y":100},{"panel":"Br-BT","series":"400","x":180,"y":108},{"panel":"Br-BT","series":"400","x":250,"y":110},{"panel":"Br-BT","series":"400","x":320,"y":106},{"panel":"Br-BT","series":"400","x":390,"y":95},{"panel":"Br-BT","series":"400","x":450,"y":78},{"panel":"Br-BT","series":"400","x":500,"y":55},{"panel":"Br-BT","series":"400","x":550,"y":19}
],
"lab": [
{"panel":"H-BT","text":"blank","x":23,"y":-24},{"panel":"H-BT","text":"50 µM","x":101,"y":-24},{"panel":"H-BT","text":"100 µM","x":173,"y":-24},{"panel":"H-BT","text":"200 µM","x":253,"y":-24},{"panel":"H-BT","text":"300 µM","x":368,"y":-17},{"panel":"H-BT","text":"400 µM","x":439,"y":34},
{"panel":"F-BT","text":"blank","x":24,"y":-21},{"panel":"F-BT","text":"50 µM","x":115,"y":-21},{"panel":"F-BT","text":"100 µM","x":194,"y":-21},{"panel":"F-BT","text":"200 µM","x":310,"y":-7},{"panel":"F-BT","text":"300 µM","x":395,"y":1},{"panel":"F-BT","text":"400 µM","x":464,"y":71},
{"panel":"Cl-BT","text":"blank","x":26,"y":-37},{"panel":"Cl-BT","text":"50 µM","x":147,"y":-26},{"panel":"Cl-BT","text":"100 µM","x":249,"y":-24},{"panel":"Cl-BT","text":"200 µM","x":345,"y":-20},{"panel":"Cl-BT","text":"300 µM","x":443,"y":-31},{"panel":"Cl-BT","text":"400 µM","x":534,"y":-11},
{"panel":"Br-BT","text":"blank","x":35,"y":-37},{"panel":"Br-BT","text":"50 µM","x":164,"y":-29},{"panel":"Br-BT","text":"100 µM","x":286,"y":-25},{"panel":"Br-BT","text":"200 µM","x":392,"y":-25},{"panel":"Br-BT","text":"300 µM","x":488,"y":-25},{"panel":"Br-BT","text":"400 µM","x":601,"y":52}
],
"ttl": [
{"panel":"H-BT","x":-40,"y":470},{"panel":"F-BT","x":-42,"y":470},{"panel":"Cl-BT","x":-91,"y":568},{"panel":"Br-BT","x":-84,"y":659}
]
},
"resolve": {"scale": {"color": "independent", "shape": "independent", "stroke": "independent"}, "legend": {"stroke": "independent"}},
"spacing": 76,
"vconcat": [
{"hconcat": [
{"width": 269, "height": 217,
 "layer": [
  {"data": {"name": "pts"}, "transform": [{"filter": "datum.panel == 'H-BT'"}],
   "mark": {"type": "point", "filled": true, "size": 38, "opacity": 1},
   "encoding": {
    "x": {"field": "x", "type": "quantitative", "scale": {"domain": [-50, 500], "nice": false, "zero": false}, "axis": {"title": "Zᵣₑₐₗ (ohm cm²)", "values": [-50,0,50,100,150,200,250,300,350,400,450,500], "labelExpr": "datum.value % 100 == 0 ? datum.label : ''", "tickCount": 40, "labelOverlap": false}},
    "y": {"field": "y", "type": "quantitative", "scale": {"domain": [-50, 500], "nice": false, "zero": false}, "axis": {"title": "Zᵢₘₐ (ohm cm²)", "values": [-50,0,50,100,150,200,250,300,350,400,450,500], "labelExpr": "datum.value % 100 == 0 ? datum.label : ''", "tickCount": 40, "labelOverlap": false}},
    "color": {"field": "series", "type": "nominal", "scale": {"domain": ["blank","50","100","200","300","400"], "range": ["#ff0000","#00ffff","#00e000","#0000ff","#ffff00","#ff00ff"]}, "legend": null},
    "shape": {"field": "series", "type": "nominal", "scale": {"domain": ["blank","50","100","200","300","400"], "range": ["circle","circle","M0,-1L0.866,-0.5L0.866,0.5L0,1L-0.866,0.5L-0.866,-0.5Z","M0,-1L0.225,-0.31L0.951,-0.309L0.363,0.118L0.588,0.809L0,0.382L-0.588,0.809L-0.363,0.118L-0.951,-0.309L-0.225,-0.31Z","diamond","triangle-right"]}, "legend": null}
   }},
  {"data": {"name": "fit"}, "transform": [{"filter": "datum.panel == 'H-BT'"}],
   "mark": {"type": "line", "interpolate": "cardinal", "strokeWidth": 1},
   "encoding": {
    "x": {"field": "x", "type": "quantitative"}, "y": {"field": "y", "type": "quantitative"}, "detail": {"field": "series"},
    "stroke": {"datum": "fitting result", "type": "nominal", "scale": {"range": ["#777777"]}, "legend": {"title": null, "orient": "top-right", "offset": 3, "symbolType": "stroke", "symbolSize": 500, "symbolStrokeWidth": 1, "labelFontSize": 10, "labelFont": "Liberation Serif", "padding": 0}}
   }},
  {"data": {"name": "lab"}, "transform": [{"filter": "datum.panel == 'H-BT'"}],
   "mark": {"type": "text", "fontSize": 10},
   "encoding": {"x": {"field": "x", "type": "quantitative"}, "y": {"field": "y", "type": "quantitative"}, "text": {"field": "text"}, "color": {"condition": {"test": "datum.text == '50 µM'", "value": "#22226e"}, "value": "#333333"}}},
  {"data": {"name": "ttl"}, "transform": [{"filter": "datum.panel == 'H-BT'"}],
   "mark": {"type": "text", "fontSize": 11, "align": "left", "color": "#222"},
   "encoding": {"x": {"field": "x", "type": "quantitative"}, "y": {"field": "y", "type": "quantitative"}, "text": {"field": "panel"}}}
 ]},
{"width": 265, "height": 217,
 "layer": [
  {"data": {"name": "pts"}, "transform": [{"filter": "datum.panel == 'F-BT'"}],
   "mark": {"type": "point", "filled": true, "size": 38, "opacity": 1},
   "encoding": {
    "x": {"field": "x", "type": "quantitative", "scale": {"domain": [-50, 500], "nice": false, "zero": false}, "axis": {"title": "Zᵣₑₐₗ (ohm cm²)", "values": [-50,0,50,100,150,200,250,300,350,400,450,500], "labelExpr": "datum.value % 100 == 0 ? datum.label : ''", "tickCount": 40, "labelOverlap": false}},
    "y": {"field": "y", "type": "quantitative", "scale": {"domain": [-50, 500], "nice": false, "zero": false}, "axis": {"title": "Zᵢₘₐ (ohm cm²)", "values": [-50,0,50,100,150,200,250,300,350,400,450,500], "labelExpr": "datum.value % 100 == 0 ? datum.label : ''", "tickCount": 40, "labelOverlap": false}},
    "color": {"field": "series", "type": "nominal", "scale": {"domain": ["blank","50","100","200","300","400"], "range": ["#ff0000","#00ffff","#00e000","#0000ff","#ffff00","#ff00ff"]}, "legend": null},
    "shape": {"field": "series", "type": "nominal", "scale": {"domain": ["blank","50","100","200","300","400"], "range": ["circle","circle","square","M0,-1L0.225,-0.31L0.951,-0.309L0.363,0.118L0.588,0.809L0,0.382L-0.588,0.809L-0.363,0.118L-0.951,-0.309L-0.225,-0.31Z","diamond","circle"]}, "legend": null}
   }},
  {"data": {"name": "fit"}, "transform": [{"filter": "datum.panel == 'F-BT'"}],
   "mark": {"type": "line", "interpolate": "cardinal", "strokeWidth": 1},
   "encoding": {
    "x": {"field": "x", "type": "quantitative"}, "y": {"field": "y", "type": "quantitative"}, "detail": {"field": "series"},
    "stroke": {"datum": "fitting result", "type": "nominal", "scale": {"range": ["#777777"]}, "legend": {"title": null, "orient": "top-right", "offset": 3, "symbolType": "stroke", "symbolSize": 500, "symbolStrokeWidth": 1, "labelFontSize": 10, "labelFont": "Liberation Serif", "padding": 0}}
   }},
  {"data": {"name": "lab"}, "transform": [{"filter": "datum.panel == 'F-BT'"}],
   "mark": {"type": "text", "fontSize": 10},
   "encoding": {"x": {"field": "x", "type": "quantitative"}, "y": {"field": "y", "type": "quantitative"}, "text": {"field": "text"}, "color": {"condition": {"test": "datum.text == '50 µM'", "value": "#22226e"}, "value": "#333333"}}},
  {"data": {"name": "ttl"}, "transform": [{"filter": "datum.panel == 'F-BT'"}],
   "mark": {"type": "text", "fontSize": 11, "align": "left", "color": "#222"},
   "encoding": {"x": {"field": "x", "type": "quantitative"}, "y": {"field": "y", "type": "quantitative"}, "text": {"field": "panel"}}}
 ]}
], "spacing": 80, "resolve": {"scale": {"color": "independent", "shape": "independent", "stroke": "independent"}, "legend": {"stroke": "independent"}}},
{"hconcat": [
{"width": 269, "height": 217,
 "layer": [
  {"data": {"name": "pts"}, "transform": [{"filter": "datum.panel == 'Cl-BT'"}],
   "mark": {"type": "point", "filled": true, "size": 38, "opacity": 1},
   "encoding": {
    "x": {"field": "x", "type": "quantitative", "scale": {"domain": [-100, 600], "nice": false, "zero": false}, "axis": {"title": "Zᵣₑₐₗ (ohm cm²)", "values": [-100,-50,0,50,100,150,200,250,300,350,400,450,500,550,600], "labelExpr": "datum.value % 100 == 0 ? datum.label : ''", "tickCount": 40, "labelOverlap": false}},
    "y": {"field": "y", "type": "quantitative", "scale": {"domain": [-100, 600], "nice": false, "zero": false}, "axis": {"title": "Zᵢₘₐ (ohm cm²)", "values": [-100,-50,0,50,100,150,200,250,300,350,400,450,500,550,600], "labelExpr": "datum.value % 100 == 0 ? datum.label : ''", "tickCount": 40, "labelOverlap": false}},
    "color": {"field": "series", "type": "nominal", "scale": {"domain": ["blank","50","100","200","300","400"], "range": ["#ff0000","#00ffff","#00e000","#0000ff","#ffff00","#ff00ff"]}, "legend": null},
    "shape": {"field": "series", "type": "nominal", "scale": {"domain": ["blank","50","100","200","300","400"], "range": ["circle","M0,-1L0.225,-0.31L0.951,-0.309L0.363,0.118L0.588,0.809L0,0.382L-0.588,0.809L-0.363,0.118L-0.951,-0.309L-0.225,-0.31Z","diamond","circle","M0,-1L0.225,-0.31L0.951,-0.309L0.363,0.118L0.588,0.809L0,0.382L-0.588,0.809L-0.363,0.118L-0.951,-0.309L-0.225,-0.31Z","square"]}, "legend": null}
   }},
  {"data": {"name": "fit"}, "transform": [{"filter": "datum.panel == 'Cl-BT'"}],
   "mark": {"type": "line", "interpolate": "cardinal", "strokeWidth": 1},
   "encoding": {
    "x": {"field": "x", "type": "quantitative"}, "y": {"field": "y", "type": "quantitative"}, "detail": {"field": "series"},
    "stroke": {"datum": "fitting result", "type": "nominal", "scale": {"range": ["#777777"]}, "legend": {"title": null, "orient": "top-right", "offset": 3, "symbolType": "stroke", "symbolSize": 500, "symbolStrokeWidth": 1, "labelFontSize": 10, "labelFont": "Liberation Serif", "padding": 0}}
   }},
  {"data": {"name": "lab"}, "transform": [{"filter": "datum.panel == 'Cl-BT'"}],
   "mark": {"type": "text", "fontSize": 10},
   "encoding": {"x": {"field": "x", "type": "quantitative"}, "y": {"field": "y", "type": "quantitative"}, "text": {"field": "text"}, "color": {"condition": {"test": "datum.text == '50 µM'", "value": "#22226e"}, "value": "#333333"}}},
  {"data": {"name": "ttl"}, "transform": [{"filter": "datum.panel == 'Cl-BT'"}],
   "mark": {"type": "text", "fontSize": 11, "align": "left", "color": "#222"},
   "encoding": {"x": {"field": "x", "type": "quantitative"}, "y": {"field": "y", "type": "quantitative"}, "text": {"field": "panel"}}}
 ]},
{"width": 264, "height": 213,
 "layer": [
  {"data": {"name": "pts"}, "transform": [{"filter": "datum.panel == 'Br-BT'"}],
   "mark": {"type": "point", "filled": true, "size": 38, "opacity": 1},
   "encoding": {
    "x": {"field": "x", "type": "quantitative", "scale": {"domain": [-100, 700], "nice": false, "zero": false}, "axis": {"title": "Zᵣₑₐₗ (ohm cm²)", "values": [-100,-50,0,50,100,150,200,250,300,350,400,450,500,550,600,650,700], "labelExpr": "datum.value % 100 == 0 ? datum.label : ''", "tickCount": 40, "labelOverlap": false}},
    "y": {"field": "y", "type": "quantitative", "scale": {"domain": [-100, 700], "nice": false, "zero": false}, "axis": {"title": "Zᵢₘₐ (ohm cm²)", "values": [-100,-50,0,50,100,150,200,250,300,350,400,450,500,550,600,650,700], "labelExpr": "datum.value % 100 == 0 ? datum.label : ''", "tickCount": 40, "labelOverlap": false}},
    "color": {"field": "series", "type": "nominal", "scale": {"domain": ["blank","50","100","200","300","400"], "range": ["#ff0000","#00ffff","#00e000","#0000ff","#ffff00","#ff00ff"]}, "legend": null},
    "shape": {"field": "series", "type": "nominal", "scale": {"domain": ["blank","50","100","200","300","400"], "range": ["circle","M0,-1L0.225,-0.31L0.951,-0.309L0.363,0.118L0.588,0.809L0,0.382L-0.588,0.809L-0.363,0.118L-0.951,-0.309L-0.225,-0.31Z","circle","M0,-1L0.866,-0.5L0.866,0.5L0,1L-0.866,0.5L-0.866,-0.5Z","triangle-down","square"]}, "legend": null}
   }},
  {"data": {"name": "fit"}, "transform": [{"filter": "datum.panel == 'Br-BT'"}],
   "mark": {"type": "line", "interpolate": "cardinal", "strokeWidth": 1},
   "encoding": {
    "x": {"field": "x", "type": "quantitative"}, "y": {"field": "y", "type": "quantitative"}, "detail": {"field": "series"},
    "stroke": {"datum": "fitting result", "type": "nominal", "scale": {"range": ["#777777"]}, "legend": {"title": null, "orient": "top-right", "offset": 3, "symbolType": "stroke", "symbolSize": 500, "symbolStrokeWidth": 1, "labelFontSize": 10, "labelFont": "Liberation Serif", "padding": 0}}
   }},
  {"data": {"name": "lab"}, "transform": [{"filter": "datum.panel == 'Br-BT'"}],
   "mark": {"type": "text", "fontSize": 10},
   "encoding": {"x": {"field": "x", "type": "quantitative"}, "y": {"field": "y", "type": "quantitative"}, "text": {"field": "text"}, "color": {"condition": {"test": "datum.text == '50 µM'", "value": "#22226e"}, "value": "#333333"}}},
  {"data": {"name": "ttl"}, "transform": [{"filter": "datum.panel == 'Br-BT'"}],
   "mark": {"type": "text", "fontSize": 11, "align": "left", "color": "#222"},
   "encoding": {"x": {"field": "x", "type": "quantitative"}, "y": {"field": "y", "type": "quantitative"}, "text": {"field": "panel"}}}
 ]}
], "spacing": 80, "resolve": {"scale": {"color": "independent", "shape": "independent", "stroke": "independent"}, "legend": {"stroke": "independent"}}}
]
}
